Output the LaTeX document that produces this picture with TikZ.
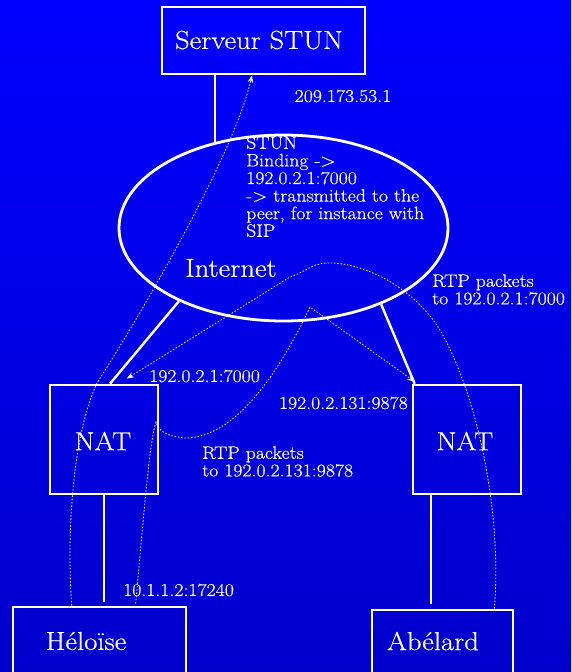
\documentclass[tikz,border=0pt]{standalone}
\usepackage{fontspec}
\setmainfont{Latin Modern Roman}[FakeStretch=1.1, FakeBold=0.5]
\usepackage{tikz}
\usetikzlibrary{arrows.meta}
\usetikzlibrary{shapes.geometric}
\usetikzlibrary{positioning}

\definecolor{bgtop}{RGB}{0,0,255}
\definecolor{bgbottom}{RGB}{0,0,203}

\tikzset{
  box/.style={draw=white, line width=2.6pt, rectangle, inner sep=0pt},
  link/.style={white, line width=2.4pt},
  flow/.style={white, line width=0.8pt, dash pattern=on 1.5pt off 1.8pt},
  bigtxt/.style={text=white, inner sep=0pt, font=\fontsize{26}{30}\selectfont},
  smalltxt/.style={text=white, inner sep=0pt, align=left, font=\fontsize{18}{17.6}\selectfont}
}

\begin{document}
\begin{tikzpicture}[x=1pt, y=-1pt, >={Stealth[length=7.5pt,width=5.5pt]}]
        \useasboundingbox (0,0) rectangle (571,672);
        \clip (0,0) rectangle (571,672);
        \shade[top color=bgtop, bottom color=bgbottom] (0,0) rectangle (571,672);

        % boxes
        \node[box, minimum width=203, minimum height=67] (stun) at (263.5,40.5) {};
        \node[draw=white, line width=2.8pt, ellipse, inner sep=0pt,
              minimum width=329, minimum height=186] (inet) at (283.5,228) {};
        \node[box, minimum width=108, minimum height=109] (natl) at (104,439.5) {};
        \node[box, minimum width=108, minimum height=109] (natr) at (467,439.5) {};
        \node[box, minimum width=173, minimum height=80] (helo) at (99.5,647) {};
        \node[box, minimum width=141, minimum height=80] (abel) at (442.5,650) {};

        % box labels
        \node[bigtxt] (stuntxt) at (259,40) {Serveur STUN};
        \node[bigtxt] (inettxt) at (231,268) {Internet};
        \node[bigtxt] (natltxt) at (103,441) {NAT};
        \node[bigtxt] (natrtxt) at (465,441) {NAT};
        \node[bigtxt] (helotxt) at (86,641) {Héloïse};
        \node[bigtxt] (abeltxt) at (433,641) {Abélard};

        % solid links
        \coordinate (upin) at (215,143);
        \coordinate (rdown) at (431,0);
        \draw[link] (stun.south -| upin) -- (upin);
        \draw[link] (inet.215) -- ([xshift=6pt]natl.north);
        \draw[link] (inet.322) -- ([xshift=3pt]natr.north west);
        \draw[link, shorten >=4pt] (natl.south) -- (natl.south |- helo.north);
        \draw[link, shorten >=5pt] (natr.south -| rdown) -- (abel.north -| rdown);

        % binding request, Heloise -> STUN server
        \draw[flow, ->] ([xshift=60pt]helo.north west)
            .. controls (66,520) and (75,430) .. (97,383)
            .. controls (150,300) and (235,150) .. ([xshift=-11.5pt]stun.south);
        % RTP from Abelard
        \draw[flow, ->] ([xshift=-20pt]abel.north east)
            .. controls (502,520) and (480,400) .. (440,330)
            .. controls (415,290) and (370,265) .. (333,263)
            .. controls (312,262) and (310,270) .. (290,277)
            -- ([xshift=78pt,yshift=5pt]natl.north west);
        % RTP from Heloise
        \draw[flow, ->] ([xshift=124pt,yshift=2pt]helo.north west)
            .. controls (145,500) and (150,440) .. (156,422)
            .. controls (158,430) and (165,436) .. (185,438)
            .. controls (240,438) and (285,360) .. (310,307)
            -- ([xshift=3pt,yshift=2pt]natr.north west);

        % small labels
        \node[smalltxt] (pubip) at (343,96) {209.173.53.1};
        \node[smalltxt, anchor=north west] (bind) at (246,136)
            {STUN\\Binding ->\\192.0.2.1:7000\\-> transmitted to the\\peer, for instance with\\SIP};
        \node[smalltxt, anchor=west] (rtpa) at (432,289.5) {RTP packets\\to 192.0.2.1:7000};
        \node[smalltxt, anchor=west] (mapl) at (149,376) {192.0.2.1:7000};
        \node[smalltxt, anchor=east] (mapr) at (408,403) {192.0.2.131:9878};
        \node[smalltxt, anchor=west] (rtph) at (202,461.5) {RTP packets\\to 192.0.2.131:9878};
        \node[smalltxt, anchor=west] (priv) at (123,590) {10.1.1.2:17240};
    \end{tikzpicture}
\end{document}
